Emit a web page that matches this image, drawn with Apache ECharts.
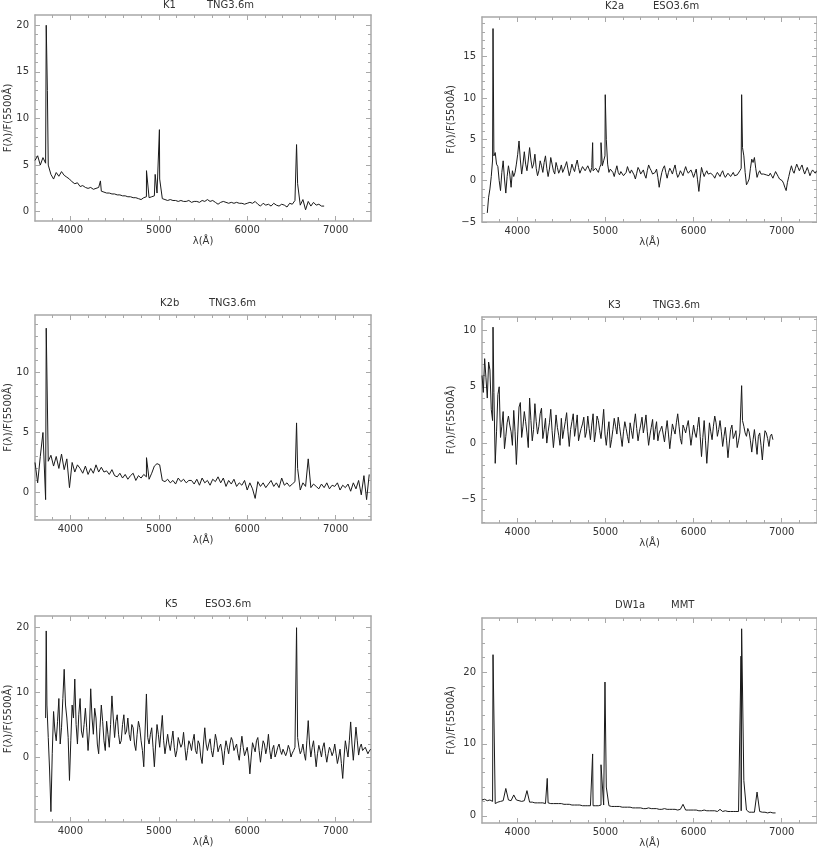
<!DOCTYPE html>
<html>
<head>
<meta charset="utf-8">
<title>Spectra</title>
<script src="https://cdn.jsdelivr.net/npm/echarts@6/dist/echarts.min.js"></script>
<style>
  html, body { margin: 0; padding: 0; background: #fff; }
  #chart { width: 817px; height: 851px; }
</style>
</head>
<body>
<div id="chart"></div>
<script>
// wavelength grid (Å), one row = 300 Å
const lam = [
  3600, 3630, 3660, 3690, 3720, 3750, 3780, 3810, 3840, 3870,
  3900, 3930, 3960, 3990, 4020, 4050, 4080, 4110, 4140, 4170,
  4200, 4230, 4260, 4290, 4320, 4350, 4380, 4410, 4440, 4470,
  4500, 4530, 4560, 4590, 4620, 4650, 4680, 4710, 4740, 4770,
  4800, 4830, 4860, 4890, 4920, 4950, 4980, 5010, 5040, 5070,
  5100, 5130, 5160, 5190, 5220, 5250, 5280, 5310, 5340, 5370,
  5400, 5430, 5460, 5490, 5520, 5550, 5580, 5610, 5640, 5670,
  5700, 5730, 5760, 5790, 5820, 5850, 5880, 5910, 5940, 5970,
  6000, 6030, 6060, 6090, 6120, 6150, 6180, 6210, 6240, 6270,
  6300, 6330, 6360, 6390, 6420, 6450, 6480, 6510, 6540, 6570,
  6600, 6630, 6660, 6690, 6720, 6750, 6780, 6810, 6840, 6870,
  6900, 6930, 6960, 6990, 7020, 7050, 7080, 7110, 7140, 7170,
  7200, 7230, 7260, 7290, 7320, 7350, 7380
];
// in-between samples for the noisiest spectra
const lamMid = [
  3615, 3645, 3675, 3705, 3735, 3765, 3795, 3825, 3855, 3885,
  3915, 3945, 3975, 4005, 4035, 4065, 4095, 4125, 4155, 4185,
  4215, 4245, 4275, 4305, 4335, 4365, 4395, 4425, 4455, 4485,
  4515, 4545, 4575, 4605, 4635, 4665, 4695, 4725, 4755, 4785,
  4815, 4845, 4875, 4905, 4935, 4965, 4995, 5025, 5055, 5085,
  5115, 5145, 5175, 5205, 5235, 5265, 5295, 5325, 5355, 5385,
  5415, 5445, 5475, 5505, 5535, 5565, 5595, 5625, 5655, 5685,
  5715, 5745, 5775, 5805, 5835, 5865, 5895, 5925, 5955, 5985,
  6015, 6045, 6075, 6105, 6135, 6165, 6195, 6225, 6255, 6285,
  6315, 6345, 6375, 6405, 6435, 6465, 6495, 6525, 6555, 6585,
  6615, 6645, 6675, 6705, 6735, 6765, 6795, 6825, 6855, 6885,
  6915, 6945, 6975, 7005, 7035, 7065, 7095, 7125, 7155, 7185,
  7215, 7245, 7275, 7305, 7335, 7365, 7395
];

const xMajor = [4000, 5000, 6000, 7000];
const xMinor = [3800, 4200, 4400, 4600, 4800, 5200, 5400, 5600, 5800, 6200, 6400, 6600, 6800, 7200];

// K1  TNG3.6m
const k1Start = 3600;
const k1Flux = [
  5.5, 6.0, 5.0, 5.8, 5.2, 5.0, 4.0, 3.5, 4.2, 3.8,
  4.3, 3.9, 3.7, 3.5, 3.2, 3.0, 3.1, 2.7, 2.8, 2.6,
  2.5, 2.6, 2.4, 2.5, 2.6, 2.2, 2.1, 2.0, 2.0, 1.9,
  1.9, 1.8, 1.8, 1.7, 1.7, 1.6, 1.6, 1.5, 1.5, 1.4,
  1.3, 1.5, 1.6, 1.5, 1.6, 1.7, 2.0, 3.5, 1.4, 1.3,
  1.2, 1.3, 1.2, 1.2, 1.1, 1.2, 1.1, 1.1, 1.2, 1.0,
  1.1, 1.1, 1.0, 1.2, 1.1, 1.3, 1.1, 1.2, 1.0, 0.8,
  1.0, 1.1, 1.0, 0.9, 1.0, 0.9, 1.0, 0.9, 0.9, 0.8,
  0.9, 1.0, 0.9, 1.1, 0.8, 0.6, 0.9, 0.7, 0.8, 0.6,
  0.9, 0.7, 0.6, 0.8, 0.7, 0.5, 0.9, 0.8, 1.2, 3.0,
  0.7, 1.3, 0.2, 1.1, 0.6, 1.0, 0.7, 0.8, 0.6, 0.6
];
const k1Lines = [[3727, 20.0], [3740, 13.0], [4340, 3.3], [4861, 4.4], [4959, 4.0], [5007, 8.8], [6558, 7.2]];
const k1YMajor = [0, 5, 10, 15, 20];
const k1YMinor = [1, 2, 3, 4, 6, 7, 8, 9, 11, 12, 13, 14, 16, 17, 18, 19];

// K2a  ESO3.6m
const k2aStart = 3660;
const k2aFlux = [
  -3.9, -1.0, 2.5, 3.4, 1.7, -1.2, 2.4, -1.5,
  1.8, -0.8, 0.5, 2.0, 4.8, 0.8, 3.5, 1.2, 4.0, 1.5,
  3.2, 0.6, 2.4, 1.0, 3.0, 0.5, 2.8, 1.2, 2.2, 0.9,
  1.9, 1.4, 2.3, 0.6, 2.0, 1.1, 2.5, 0.9, 1.7, 1.2,
  1.8, 1.0, 1.2, 1.5, 1.0, 2.0, 2.4, 5.0, 1.0, 1.6,
  0.5, 1.8, 0.7, 1.3, 0.4, 1.7, 0.9, 1.4, 0.2, 1.6,
  0.8, 1.3, 0.3, 1.9, 1.2, 0.6, 1.4, -0.8, 1.0, 1.8,
  0.3, 1.5, 0.8, 1.9, 0.4, 1.2, 0.6, 1.7, 0.9, 1.3,
  0.4, 1.4, -1.3, 1.6, 0.5, 1.2, 0.6, 1.1, 0.3, 1.0,
  0.5, 1.2, 0.4, 0.9, 0.5, 1.0, 0.4, 0.8, 1.5, 3.0,
  -0.5, 0.2, 2.6, 2.8, 0.4, 1.2, 0.6, 1.0, 0.5, 0.9,
  0.3, 1.1, 0.5, 0.2, -0.3, -1.2, 0.5, 1.8, 0.9, 2.0,
  1.2, 1.9, 0.8, 1.6, 0.6, 1.3, 0.9
];
const k2aMidStart = 3675;
const k2aMid = [
  -2.0, 0.5, 3.0, 2.0, 0.0, 1.0, 0.2, 0.5,
  0.8, 1.2, 1.0, 3.2, 2.5, 2.0, 2.0, 2.5, 2.5, 2.0,
  1.5, 1.2, 1.8, 2.2, 1.5, 1.4, 2.0, 0.8, 1.6, 1.3,
  1.0, 1.8, 1.4, 1.2, 1.5, 1.9, 1.6, 1.3, 1.9, 1.5,
  1.4, 1.6, 1.0, 1.3, 1.6, 1.8, 3.0, 2.0, 1.4, 1.0,
  1.2, 1.0, 1.1, 0.6, 1.0, 1.2, 1.3, 0.7, 0.9, 1.3,
  0.9, 0.7, 1.2, 1.5, 0.8, 1.0, 0.4, 0.2, 1.5, 1.0,
  1.0, 1.2, 1.4, 1.0, 0.7, 0.9, 1.2, 1.2, 1.1, 0.9,
  0.9, 0.1, 0.3, 1.0, 0.9, 0.8, 0.9, 0.6, 0.7, 0.8,
  0.9, 0.7, 0.6, 0.8, 0.7, 0.6, 0.7, 1.2, 4.0, 1.0,
  -0.2, 1.5, 2.2, 1.5, 0.9, 0.8, 0.8, 0.7, 0.6, 0.6,
  0.7, 0.8, 0.2, 0.0, -0.8, -0.2, 1.2, 1.2, 1.5, 1.6,
  1.6, 1.3, 1.2, 1.1, 1.0, 1.1, 1.2
];
const k2aLines = [[3725, 18.4], [4855, 4.6], [4950, 4.6], [4998, 10.4], [6545, 10.4]];
const k2aYMajor = [-5, 0, 5, 10, 15];
const k2aYMinor = [-4, -3, -2, -1, 1, 2, 3, 4, 6, 7, 8, 9, 11, 12, 13, 14, 16, 17, 18, 19];

// K2b  TNG3.6m
const k2bStart = 3600;
const k2bFlux = [
  2.5, 0.8, 3.0, 5.0, -0.6, 2.6, 3.1, 2.2, 3.0, 2.0,
  3.2, 1.9, 2.8, 0.4, 2.5, 1.7, 2.3, 2.0, 1.6, 2.2,
  1.5, 2.0, 1.6, 2.3, 1.7, 2.1, 1.7, 1.8, 1.5, 1.9,
  1.4, 1.3, 1.6, 1.2, 1.5, 1.1, 1.4, 1.6, 1.0, 1.4,
  1.2, 1.5, 1.3, 1.1, 1.6, 2.2, 2.4, 2.3, 1.0, 0.9,
  1.1, 0.8, 1.0, 0.7, 1.2, 0.9, 1.1, 0.8, 1.0, 1.0,
  0.7, 1.1, 0.6, 1.2, 0.8, 1.0, 0.6, 1.1, 0.9, 1.3,
  0.8, 1.2, 0.5, 1.0, 0.7, 1.1, 0.5, 0.8, 0.6, 1.0,
  0.2, 0.8, 0.3, -0.5, 0.9, 0.5, 0.8, 0.4, 0.7, 1.0,
  0.5, 0.8, 0.4, 1.2, 0.6, 0.8, 0.5, 0.7, 0.9, 2.0,
  0.2, 0.8, 0.5, 2.8, 0.4, 0.7, 0.5, 0.3, 0.7, 0.4,
  0.8, 0.3, 0.6, 0.5, 0.8, 0.2, 0.6, 0.4, 0.7, 0.1,
  0.8, 0.3, 1.0, -0.2, 1.4, -0.6, 1.5
];
const k2bLines = [[3727, 13.7], [4861, 2.9], [6558, 5.8]];
const k2bYMajor = [0, 5, 10];
const k2bYMinor = [-2, -1, 1, 2, 3, 4, 6, 7, 8, 9, 11, 12, 13, 14];

// K3  TNG3.6m
const k3Start = 3600;
const k3Flux = [
  6.0, 7.5, 4.0, 6.5, 2.0, -1.8, 4.3, 0.5, 2.8, 0.6,
  2.4, 1.0, 2.9, -1.9, 3.2, 0.5, 2.8, 0.9, 4.0, 0.2,
  3.5, 0.8, 2.6, 0.4, 2.2, 1.0, 3.0, -0.4, 2.5, 0.7,
  2.2, 1.2, 2.7, -0.3, 1.9, 0.6, 2.5, 0.8, 1.7, 0.5,
  2.4, 0.3, 2.6, 1.0, 2.0, 0.4, 3.0, -0.2, 1.9, 0.3,
  2.2, 0.8, 1.5, -0.3, 1.9, 0.6, 1.8, 0.4, 2.6, 0.2,
  1.6, 0.9, 2.5, -0.2, 1.4, 0.3, 1.9, 0.9, 1.5, 0.1,
  2.0, -0.5, 1.7, 0.8, 2.6, 0.4, 1.6, 0.9, 2.0, -0.2,
  1.6, 0.5, 2.3, -1.2, 2.0, -1.8, 1.8, 0.3, 2.4, 0.6,
  2.0, -0.3, 1.4, -1.3, 1.2, 0.4, 1.1, 0.2, 0.8, 1.5,
  0.6, 1.0, -0.8, 1.2, -1.0, 0.9, -1.5, 1.1, 0.4, 0.6,
  0.3
];
const k3MidStart = 3615;
const k3Mid = [
  4.5, 5.8, 7.2, 3.0, 4.5, 1.0, 5.0, 1.5, -0.5, 1.8,
  1.6, -0.2, 1.0, 0.8, 3.6, 1.5, 1.9, -0.4, 2.0, 1.2,
  1.9, 1.5, 3.1, 1.2, 0.0, 1.8, 1.1, 0.9, 1.4, -0.2,
  0.4, 1.9, 1.0, 1.2, 2.6, 1.4, 0.2, 1.3, 2.3, 1.0,
  1.3, 1.6, 0.1, 2.4, 1.1, 1.6, 0.8, 1.0, -0.4, 1.2,
  1.5, 2.3, 0.6, 1.0, 1.3, 0.0, 1.1, 1.7, 1.3, 1.0,
  2.3, 1.6, 1.0, 0.7, 2.1, 1.2, 0.2, 1.2, 0.8, 1.1,
  0.8, 0.6, 1.2, 1.8, 1.5, -0.1, 1.3, 1.5, 0.9, 0.7,
  0.9, 1.4, 0.6, 0.5, 0.2, 0.0, 1.0, 1.5, 1.8, 1.2,
  1.0, 0.6, 0.2, 0.0, 1.6, 0.7, -0.4, 0.9, 2.0, 0.9,
  1.3, 0.2, 0.3, 0.1, 0.6, -0.2, 0.0, 0.9, -0.3, 0.8
];
const k3Lines = [[3725, 10.3], [6545, 5.1]];
const k3YMajor = [-5, 0, 5, 10];
const k3YMinor = [-7, -6, -4, -3, -2, -1, 1, 2, 3, 4, 6, 7, 8, 9, 11];

// K5  ESO3.6m
const k5Start = 3720;
const k5Flux = [
  6.0, 3.0, -8.4, 7.0, 2.5, 9.0,
  4.5, 13.5, 6.0, -3.6, 8.0, 12.0, 2.0, 9.0, 3.0, 7.5,
  1.0, 10.5, 3.5, 6.0, 0.5, 8.0, 2.5, 5.5, 1.5, 9.4,
  3.0, 6.5, 2.0, 5.0, 3.5, 6.0, 2.5, 4.5, 1.0, 5.5,
  2.5, -1.5, 9.7, 2.0, 4.5, -1.5, 5.0, 1.5, 6.4, 0.5,
  3.5, 1.0, 4.0, 0.0, 3.0, 1.5, 3.8, -0.5, 2.5, 1.0,
  3.5, 0.5, 2.0, -1.0, 4.5, 1.0, 2.8, 0.0, 3.5, 0.8,
  2.0, -1.2, 2.5, 0.5, 3.0, 1.0, 2.0, -0.5, 3.2, 0.2,
  1.5, -2.6, 2.2, 0.8, 3.0, -0.8, 2.5, 0.5, 3.5, -0.3,
  1.8, 0.6, 2.0, 0.4, 1.5, 0.8, 1.2, 0.6, 1.5, 3.0,
  0.5, 2.0, -0.5, 5.6, 0.0, 2.5, -1.5, 1.8, 0.0, 2.2,
  -0.8, 1.5, 0.2, 2.0, -1.0, 1.2, -3.3, 2.5, 0.0, 5.4,
  -0.5, 4.6, 0.3, 2.0, 0.8, 1.5, 0.9
];
const k5MidStart = 3735;
const k5Mid = [
  8.0, -2.0, 0.5, 4.0, 5.5, 2.0,
  9.0, 8.0, 3.0, 2.5, 6.0, 5.0, 6.5, 4.0, 5.0, 4.5,
  4.0, 6.0, 7.5, 2.0, 4.5, 5.5, 1.0, 3.5, 5.0, 6.0,
  5.5, 3.5, 2.5, 6.5, 4.0, 3.5, 5.0, 2.0, 3.5, 4.5,
  1.0, 4.0, 3.0, 3.5, 1.5, 2.0, 3.5, 4.0, 2.5, 2.0,
  2.0, 2.5, 1.5, 1.0, 3.0, 2.0, 1.5, 1.0, 2.0, 2.5,
  1.0, 2.5, 0.0, 2.0, 2.0, 2.0, 1.0, 1.5, 2.5, 1.5,
  0.8, 1.0, 1.5, 2.0, 2.5, 1.5, 0.5, 1.5, 1.5, 0.0,
  0.0, 0.0, 1.5, 2.5, 1.0, 1.0, 2.0, 1.5, 1.0, 1.2,
  0.0, 1.5, 1.0, 1.2, 0.2, 1.8, 0.0, 1.0, 1.2, 1.5,
  1.0, 0.5, 2.5, 2.0, 1.5, 0.5, 0.5, 1.0, 1.5, 0.5,
  0.5, 1.0, 0.8, 0.5, 0.0, -1.0, 0.0, 1.2, 2.5, 2.0,
  2.0, 2.5, 1.5, 1.0, 1.5, 0.5, 1.2
];
const k5Lines = [[3727, 19.4], [6558, 19.9]];
const k5YMajor = [0, 10, 20];
const k5YMinor = [-8, -6, -4, -2, 2, 4, 6, 8, 12, 14, 16, 18];

// DW1a  MMT
const dw1aStart = 3600;
const dw1aFlux = [
  2.2, 2.3, 2.1, 2.2, 2.0, 1.7, 1.9, 2.0, 2.1, 3.8,
  2.2, 2.1, 2.9, 2.2, 2.1, 2.0, 2.1, 3.5, 1.9, 1.9,
  1.8, 1.8, 1.8, 1.8, 1.7, 1.8, 1.7, 1.7, 1.7, 1.7,
  1.7, 1.6, 1.6, 1.6, 1.5, 1.5, 1.5, 1.5, 1.4, 1.4,
  1.4, 1.4, 1.4, 1.4, 1.4, 1.5, 1.5, 4.0, 1.4, 1.3,
  1.3, 1.3, 1.3, 1.2, 1.2, 1.2, 1.2, 1.1, 1.1, 1.1,
  1.1, 1.0, 1.0, 1.1, 1.0, 1.0, 1.0, 0.9, 0.9, 1.0,
  0.9, 0.9, 0.9, 0.9, 0.8, 0.9, 1.6, 0.8, 0.8, 0.8,
  0.8, 0.8, 0.7, 0.7, 0.8, 0.7, 0.7, 0.7, 0.7, 0.6,
  0.9, 0.6, 0.7, 0.6, 0.6, 0.6, 0.6, 0.6, 0.7, 4.9,
  0.8, 0.5, 0.5, 0.5, 3.3, 0.6, 0.5, 0.5, 0.4, 0.5,
  0.4, 0.4
];
const dw1aLines = [[3725, 22.4], [4340, 5.2], [4855, 8.6], [4950, 7.1], [4995, 18.6], [6538, 22.2], [6545, 26.0]];
const dw1aYMajor = [0, 10, 20];
const dw1aYMinor = [2, 4, 6, 8, 12, 14, 16, 18, 22, 24, 26];

const names = ['K1', 'K2a', 'K2b', 'K3', 'K5', 'DW1a'];
const telescopes = ['TNG3.6m', 'ESO3.6m', 'TNG3.6m', 'TNG3.6m', 'ESO3.6m', 'MMT'];

const panels = [
  { start: k1Start, flux: k1Flux, midStart: 0, mid: [], lines: k1Lines, yMajor: k1YMajor, yMinor: k1YMinor, yMin: -1, yMax: 21.1 },
  { start: k2aStart, flux: k2aFlux, midStart: k2aMidStart, mid: k2aMid, lines: k2aLines, yMajor: k2aYMajor, yMinor: k2aYMinor, yMin: -5, yMax: 19.8 },
  { start: k2bStart, flux: k2bFlux, midStart: 0, mid: [], lines: k2bLines, yMajor: k2bYMajor, yMinor: k2bYMinor, yMin: -2.3, yMax: 14.8 },
  { start: k3Start, flux: k3Flux, midStart: k3MidStart, mid: k3Mid, lines: k3Lines, yMajor: k3YMajor, yMinor: k3YMinor, yMin: -7.1, yMax: 11.2 },
  { start: k5Start, flux: k5Flux, midStart: k5MidStart, mid: k5Mid, lines: k5Lines, yMajor: k5YMajor, yMinor: k5YMinor, yMin: -10, yMax: 21.7 },
  { start: dw1aStart, flux: dw1aFlux, midStart: 0, mid: [], lines: dw1aLines, yMajor: dw1aYMajor, yMinor: dw1aYMinor, yMin: -1, yMax: 27.5 }
];

// layout of the 3x2 grid of boxes (px)
const boxes = [
  { left: 35, top: 15, height: 206, nameX: 163, telX: 207, titleY: 0, yGap: 22 },
  { left: 482, top: 17, height: 205, nameX: 605, telX: 653, titleY: 1, yGap: 26 },
  { left: 35, top: 315, height: 205, nameX: 160, telX: 209, titleY: 298, yGap: 22 },
  { left: 482, top: 317, height: 206, nameX: 608, telX: 653, titleY: 300, yGap: 26 },
  { left: 35, top: 616, height: 206, nameX: 165, telX: 205, titleY: 599, yGap: 22 },
  { left: 482, top: 618, height: 205, nameX: 615, telX: 671, titleY: 600, yGap: 26 }
];

const FONT = 'DejaVu Sans';
const TEXT = '#333';
const FRAME = '#a8a8a8';

function spectrum(p) {
  const i0 = lam.indexOf(p.start);
  const pts = p.flux.map((f, i) => [lam[i0 + i], f]);
  const j0 = lamMid.indexOf(p.midStart);
  const mids = p.mid.map((f, i) => [lamMid[j0 + i], f]);
  return pts.concat(mids, p.lines).sort((a, b) => a[0] - b[0]);
}

// plain numbers, real minus sign
function plain(v) {
  return String(v).replace('-', '\u2212');
}

function xAx(grid, pos, ticks, len, withLine, withLabel) {
  return {
    type: 'value', gridIndex: grid, position: pos, min: 3600, max: 7400,
    axisLine: { show: withLine, onZero: false, lineStyle: { color: FRAME, width: 1.5 } },
    axisTick: { show: true, inside: true, length: len, customValues: ticks, lineStyle: { color: FRAME, width: 1 } },
    axisLabel: withLabel
      ? { show: true, customValues: ticks, margin: 4, fontSize: 10, fontFamily: FONT, color: TEXT, formatter: plain }
      : { show: false },
    splitLine: { show: false },
    name: withLabel ? 'λ(Å)' : '',
    nameLocation: 'middle', nameGap: 15, nameMoveOverlap: false,
    nameTextStyle: { fontSize: 10, fontFamily: FONT, color: TEXT }
  };
}

function yAx(grid, pos, p, ticks, len, withLine, withLabel, gap) {
  return {
    type: 'value', gridIndex: grid, position: pos, min: p.yMin, max: p.yMax,
    axisLine: { show: withLine, onZero: false, lineStyle: { color: FRAME, width: 1.5 } },
    axisTick: { show: true, inside: true, length: len, customValues: ticks, lineStyle: { color: FRAME, width: 1 } },
    axisLabel: withLabel
      ? { show: true, customValues: ticks, margin: 6, fontSize: 10, fontFamily: FONT, color: TEXT, formatter: plain }
      : { show: false },
    splitLine: { show: false },
    name: withLabel ? 'F(λ)/F(5500Å)' : '',
    nameLocation: 'middle', nameGap: gap, nameMoveOverlap: false,
    nameTextStyle: { fontSize: 10, fontFamily: FONT, color: TEXT }
  };
}

const option = {
  animation: false,
  backgroundColor: '#ffffff',
  title: [],
  grid: [],
  xAxis: [],
  yAxis: [],
  series: []
};

panels.forEach((p, i) => {
  const b = boxes[i];
  const ts = { fontSize: 10, fontFamily: FONT, fontWeight: 'normal', color: TEXT };
  option.title.push(
    { text: names[i], left: b.nameX, top: b.titleY, padding: 0, textStyle: ts },
    { text: telescopes[i], left: b.telX, top: b.titleY, padding: 0, textStyle: ts }
  );
  option.grid.push({ left: b.left, top: b.top, width: 336, height: b.height });

  option.xAxis.push(
    xAx(i, 'bottom', xMajor, 5, true, true),
    xAx(i, 'bottom', xMinor, 3, false, false),
    xAx(i, 'top', xMajor, 5, true, false),
    xAx(i, 'top', xMinor, 3, false, false)
  );
  option.yAxis.push(
    yAx(i, 'left', p, p.yMajor, 5, true, true, b.yGap),
    yAx(i, 'left', p, p.yMinor, 3, false, false, 0),
    yAx(i, 'right', p, p.yMajor, 5, true, false, 0),
    yAx(i, 'right', p, p.yMinor, 3, false, false, 0)
  );

  option.series.push({
    type: 'line',
    xAxisIndex: i * 4,
    yAxisIndex: i * 4,
    data: spectrum(p),
    showSymbol: false,
    symbol: 'none',
    silent: true,
    lineStyle: { color: '#1a1a1a', width: 1 }
  });
});

const myChart = echarts.init(document.getElementById('chart'), null, { renderer: 'canvas' });
myChart.setOption(option);
window.onresize = () => {
  myChart.resize();
};
</script>
</body>
</html>
